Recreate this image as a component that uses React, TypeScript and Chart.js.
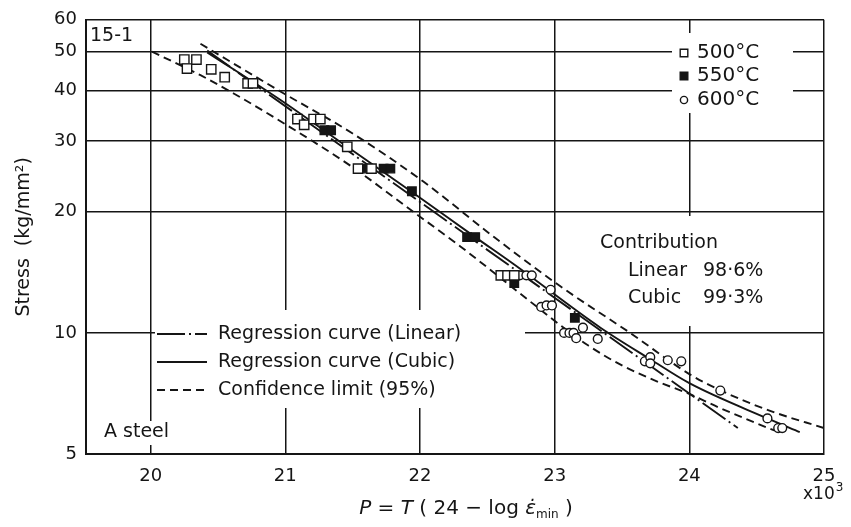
import React, { useEffect, useRef } from "react";
import { Chart, registerables } from "chart.js";

Chart.register(...registerables);

const INK = "#151515";
const FONT = "'DejaVu Sans', 'Noto Sans', sans-serif";

// Creep tests of A steel: Larson–Miller parameter P (x10^3) and stress (kg/mm²)
const p500 = [20.25, 20.27, 20.34, 20.45, 20.55, 20.72, 20.76, 21.09, 21.14, 21.21, 21.26, 21.46, 21.54, 21.64, 22.6, 22.65, 22.7];
const s500 = [47.8, 45.4, 47.8, 45.2, 43.2, 41.7, 41.7, 34.0, 32.9, 34.0, 34.0, 29.0, 25.6, 25.6, 13.9, 13.9, 13.9];

const p550 = [21.29, 21.34, 21.6, 21.73, 21.78, 21.94, 22.35, 22.41, 22.7, 23.15];
const s550 = [31.9, 31.9, 25.6, 25.6, 25.6, 22.5, 17.3, 17.3, 13.3, 10.9];

const p600 = [22.74, 22.79, 22.83, 22.97, 22.9, 22.94, 22.98, 23.07, 23.11, 23.14, 23.21, 23.16, 23.32, 23.67, 23.71, 23.71, 23.84, 23.94, 24.23, 24.58, 24.66, 24.69];
const s600 = [13.9, 13.9, 13.9, 12.8, 11.6, 11.7, 11.7, 10.0, 10.0, 10.0, 10.3, 9.7, 9.66, 8.5, 8.7, 8.4, 8.55, 8.5, 7.19, 6.13, 5.8, 5.8];

// Fitted curves
const linearP = [20.42, 24.36];
const linearS = [50.3, 5.8];

const cubicP = [20.42, 20.97, 21.46, 21.94, 22.41, 22.71, 23.34, 23.71, 24.0, 24.58, 24.82];
const cubicS = [49.8, 37.8, 29.0, 22.4, 17.3, 14.7, 10.3, 8.6, 7.5, 6.13, 5.67];

const upperP = [20.37, 20.97, 21.5, 22.03, 22.55, 23.05, 23.56, 24.0, 24.23, 24.6, 25.0];
const upperS = [52.3, 39.7, 31.3, 23.7, 17.3, 13.0, 10.0, 7.9, 7.2, 6.4, 5.8];

const lowerP = [20.01, 20.37, 20.62, 21.02, 21.5, 21.95, 22.3, 22.8, 23.05, 23.25, 23.5, 23.75, 24.0, 24.23, 24.63];
const lowerS = [50.0, 43.7, 39.3, 32.7, 25.8, 20.0, 16.4, 12.1, 10.4, 9.3, 8.3, 7.6, 7.05, 6.5, 5.72];

const xTicks = [20, 21, 22, 23, 24, 25];
const yTicks = [5, 10, 20, 30, 40, 50, 60];

const tempLabels = ["500°C", "550°C", "600°C"];
const curveLabels = ["Regression curve (Linear)", "Regression curve (Cubic)", "Confidence limit (95%)"];
const contributionTitle = "Contribution";
const contributionNames = ["Linear", "Cubic"];
const contributionValues = ["98·6%", "99·3%"];

const zip = (xs: number[], ys: number[]) => xs.map((x, i) => ({ x, y: ys[i] }));

function drawMarker(ctx: CanvasRenderingContext2D, ds: any, x: number, y: number, r: number) {
  ctx.save();
  ctx.lineWidth = 1.4;
  ctx.strokeStyle = INK;
  ctx.fillStyle = ds.backgroundColor;
  ctx.beginPath();
  if (ds.pointStyle === "circle") {
    ctx.arc(x, y, r, 0, Math.PI * 2);
  } else {
    ctx.rect(x - r, y - r, 2 * r, 2 * r);
  }
  ctx.fill();
  ctx.stroke();
  ctx.restore();
}

const decorations = {
  id: "decorations",
  beforeDatasetsDraw(chart: any) {
    const { ctx } = chart;
    const ds = chart.data.datasets;
    ctx.save();

    // white panels behind the annotations
    ctx.fillStyle = "#fff";
    ctx.fillRect(155, 310, 370, 98);
    ctx.fillRect(672, 33, 121, 80);
    ctx.fillRect(592, 216, 188, 110);
    ctx.fillRect(100, 421, 74, 24);

    ctx.fillStyle = INK;
    ctx.textBaseline = "middle";
    ctx.textAlign = "left";

    // curve legend
    ctx.font = `19px ${FONT}`;
    const rowsY = [334, 362, 390];
    [3, 4, 5].forEach((di, i) => {
      const d = ds[di];
      ctx.save();
      ctx.strokeStyle = d.borderColor;
      ctx.lineWidth = d.borderWidth;
      ctx.setLineDash(d.borderDash || []);
      ctx.beginPath();
      ctx.moveTo(157, rowsY[i]);
      ctx.lineTo(207, rowsY[i]);
      ctx.stroke();
      ctx.restore();
      ctx.fillText(curveLabels[i], 218, rowsY[i]);
    });

    // temperature legend
    ctx.font = `20px ${FONT}`;
    const tY = [53, 76, 100];
    [0, 1, 2].forEach((di, i) => {
      drawMarker(ctx, ds[di], 684, tY[i], di === 2 ? 3.6 : 3.8);
      ctx.fillStyle = INK;
      ctx.fillText(tempLabels[i], 697, tY[i]);
    });

    // contribution note
    ctx.font = `19px ${FONT}`;
    ctx.fillText(contributionTitle, 600, 243);
    const cY = [271, 298];
    contributionNames.forEach((n, i) => {
      ctx.fillText(n, 628, cY[i]);
      ctx.fillText(contributionValues[i], 703, cY[i]);
    });

    // panel labels
    ctx.fillText("15-1", 90, 36);
    ctx.fillText("A steel", 104, 432);

    // x-axis title: P = T (24 − log ε̇min)
    const parts: [string, string, number][] = [
      ["P", `italic 20px ${FONT}`, 0],
      [" = ", `20px ${FONT}`, 0],
      ["T", `italic 20px ${FONT}`, 0],
      [" ( 24 − log ", `20px ${FONT}`, 0],
      ["ε̇", `italic 20px ${FONT}`, 0],
      ["min", `12px ${FONT}`, 4],
      [" )", `20px ${FONT}`, 0],
    ];
    let total = 0;
    parts.forEach(([t, f]) => {
      ctx.font = f;
      total += ctx.measureText(t).width;
    });
    let x = 466 - total / 2;
    ctx.textBaseline = "alphabetic";
    parts.forEach(([t, f, dy]) => {
      ctx.font = f;
      ctx.fillText(t, x, 514 + dy);
      x += ctx.measureText(t).width;
    });

    // x-axis multiplier
    ctx.font = `17px ${FONT}`;
    ctx.fillText("x10", 803, 499);
    const w = ctx.measureText("x10").width;
    ctx.font = `12px ${FONT}`;
    ctx.fillText("3", 803 + w + 1, 491);

    ctx.restore();
  },
};

export default function App() {
  const ref = useRef<HTMLCanvasElement>(null);

  useEffect(() => {
    if (!ref.current) return;
    const common = { showLine: false, borderColor: INK, borderWidth: 1.4 };
    const line = (data: any, dash: number[]) => ({
      data,
      showLine: true,
      borderColor: INK,
      borderWidth: 1.9,
      borderDash: dash,
      pointRadius: 0,
      cubicInterpolationMode: "monotone",
      fill: false,
    });
    const chart = new Chart(ref.current, {
      type: "scatter",
      data: {
        datasets: [
          { ...common, label: tempLabels[0], data: zip(p500, s500), pointStyle: "rect", pointRadius: 6.6, backgroundColor: "#fff" },
          { ...common, label: tempLabels[1], data: zip(p550, s550), pointStyle: "rect", pointRadius: 6.0, backgroundColor: INK },
          { ...common, label: tempLabels[2], data: zip(p600, s600), pointStyle: "circle", pointRadius: 4.4, backgroundColor: "#fff" },
          { label: curveLabels[0], ...line(zip(linearP, linearS), [28, 4, 2, 4]) },
          { label: curveLabels[1], ...line(zip(cubicP, cubicS), []) },
          { label: curveLabels[2], ...line(zip(upperP, upperS), [8, 5]) },
          { label: curveLabels[2], ...line(zip(lowerP, lowerS), [8, 5]) },
        ] as any,
      },
      options: {
        animation: false,
        responsive: false,
        devicePixelRatio: 1,
        layout: { padding: { top: 17, right: 27, left: 0, bottom: 0 } },
        plugins: { legend: { display: false }, tooltip: { enabled: false } },
        scales: {
          x: {
            type: "linear",
            min: 19.52,
            max: 25,
            afterBuildTicks: (s: any) => {
              s.ticks = xTicks.map((v) => ({ value: v }));
            },
            afterFit: (s: any) => {
              s.height = 73;
            },
            grid: { color: INK, lineWidth: 1.5, drawTicks: false },
            border: { color: INK, width: 2 },
            ticks: { padding: 12, color: INK, font: { family: FONT, size: 18 }, callback: (v: any) => String(v) },
          },
          y: {
            type: "logarithmic",
            min: 5,
            max: 60,
            afterBuildTicks: (s: any) => {
              s.ticks = yTicks.map((v) => ({ value: v }));
            },
            afterFit: (s: any) => {
              s.width = 86;
            },
            grid: { color: INK, lineWidth: 1.5, drawTicks: false },
            border: { color: INK, width: 2 },
            ticks: { padding: 9, color: INK, font: { family: FONT, size: 18 }, callback: (v: any) => String(v) },
            title: {
              display: true,
              text: "Stress  (kg/mm²)",
              color: INK,
              font: { family: FONT, size: 19 },
              padding: { top: 13, bottom: 0 },
            },
          },
        },
      } as any,
      plugins: [decorations],
    });
    return () => chart.destroy();
  }, []);

  return (
    <div style={{ position: "absolute", left: 0, top: 0, width: 851, height: 527, background: "#fff" }}>
      <canvas ref={ref} width={851} height={527} style={{ display: "block" }} />
    </div>
  );
}
